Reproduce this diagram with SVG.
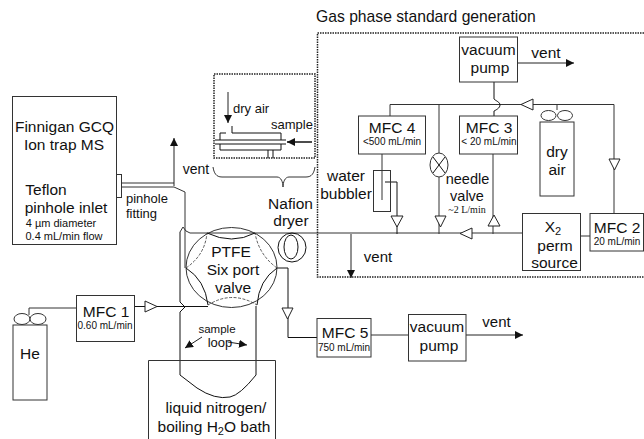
<svg xmlns="http://www.w3.org/2000/svg" width="644" height="439" viewBox="0 0 644 439">
<style>
text{font-family:"Liberation Sans",Arial,sans-serif;fill:#111;font-size:15.500px;text-anchor:middle}
.s{font-size:10px}
.l{text-anchor:start}
.b{fill:#fff;stroke:#333;stroke-width:1}
.w{fill:none;stroke:#333;stroke-width:1}
.k{fill:none;stroke:#111;stroke-width:1}
.t{fill:#fff;stroke:#222;stroke-width:1}
.d{fill:none;stroke:#222;stroke-width:1.500;stroke-dasharray:1.500 1}
.a{fill:none;stroke:#222;stroke-width:1;marker-end:url(#h)}
.v{fill:none;stroke:#333;stroke-width:.8;stroke-dasharray:3 1.500}
</style>
<defs><marker id="h" markerUnits="userSpaceOnUse" markerWidth="9" markerHeight="9" refX="8" refY="4" orient="auto"><path d="M0,0L8,4L0,8z" fill="#111"/></marker></defs>
<g id="connectors">
<path class="w" d="M29,315V308H76"/>
<path class="k" d="M134,306.500H208"/>
<path class="k" d="M180,232V302L185,307L180,312V375L197,388Q215,400 230,397Q240,395 256,375V306"/>
<path class="w" d="M180,232L183,227L186,231L190,233H522"/>
<path class="w" d="M121,183H174M121,187H174"/>
<path class="a" d="M174,186V138"/>
<path class="w" d="M174,187L185,192V268"/>
<path class="k" d="M277,268H288V337.500H317"/>
<path class="w" d="M371,335H408"/>
<path class="a" d="M466,335H523"/>
<path class="a" d="M517,63H574"/>
<path class="w" d="M390,116V104.500H614V213"/>
<path class="w" d="M439,104.500V153M439,177V234"/>
<path class="k" d="M494,82V99C496,101 500,102 500,105C500,108 496,110 494,111V116"/>
<path class="w" d="M557,104.500V110"/>
<path class="w" d="M493,154V234"/>
<path class="w" d="M382,154V200"/>
<path class="k" d="M385,182H397V234"/>
<path class="a" d="M351,234V278"/>
<path class="w" d="M580,236H590"/>
<path class="t" d="M145,301L157,306.500L145,312z"/>
<path class="t" d="M282,308H293L287.500,319z"/>
<path class="t" d="M533,99V110L521,104.500z"/>
<path class="t" d="M609,159H620L614.500,170z"/>
<path class="t" d="M435,216H446L440.500,227z"/>
<path class="t" d="M391,216H403L397,227z"/>
<path class="t" d="M488,226H500L494,215z"/>
<path class="t" d="M472,228V239L460,233.500z"/>
<path class="a" d="M202,337L185,348"/>
<path class="a" d="M228,342L247,345"/>
<path class="a" d="M75,194L110,186"/>
</g>
<g id="gas-box"><path class="d" d="M644,33H317.500V277H644"/><text x="316" y="22" class="l" style="font-size:15.700px">Gas phase standard generation</text></g>
<g id="dryer-detail">
<rect class="d" x="214" y="74" width="101" height="84"/>
<path class="a" d="M228,92V123"/>
<text x="233" y="113" class="l" style="font-size:13px">dry air</text>
<text x="271" y="129" class="l" style="font-size:13px">sample</text>
<path class="k" d="M215,140H286M215,144H286"/>
<path class="k" style="stroke-width:1.500;marker-end:url(#h)" d="M312,142H287"/>
<path class="k" d="M226,133H220V140M232,126V133H281V140M220,144V150H281V144M268,150V158M273,150V158"/>
<path class="w" d="M213,167C214,173 216,177 222,177H277C281,177 283,182 283,187C283,182 285,177 289,177H306C312,177 314,173 315,167"/>
<text x="196" y="174" style="font-size:14px">vent</text>
</g>
<g id="ms">
<rect class="b" x="12.500" y="96.500" width="104" height="148"/>
<rect class="b" x="116.500" y="174.500" width="5" height="23"/>
<text x="64.500" y="132">Finnigan GCQ</text><text x="64" y="150">Ion trap MS</text>
<text x="46" y="195">Teflon</text><text x="66" y="213">pinhole inlet</text>
<text x="61" y="227" style="font-size:11px">4 µm diameter</text><text x="64" y="240" style="font-size:11px">0.4 mL/min flow</text>
<text x="126" y="203" class="l" style="font-size:13px">pinhole</text><text x="126" y="218" class="l" style="font-size:13px">fitting</text>
</g>
<g id="he"><rect class="b" x="13" y="325" width="34" height="75"/><ellipse class="b" cx="22" cy="319" rx="8" ry="5.500"/><ellipse class="b" cx="38" cy="319" rx="8" ry="5.500"/><text x="30" y="359">He</text></g>
<g id="mfc1"><rect class="b" x="76.500" y="295.500" width="58" height="46"/><text x="106" y="317">MFC 1</text><text x="105" y="329" class="s">0.60 mL/min</text></g>
<g id="valve">
<ellipse class="w" cx="231.500" cy="267.500" rx="45.500" ry="40"/>
<path class="k" d="M207,233Q232,245 255,233M186,268Q205,280 208,305M277,268Q259,280 257,305"/>
<path class="v" d="M186,268Q205,255 207,233M277,268Q259,255 255,233M208,305Q232,290 257,305"/>
<text x="231" y="257">PTFE</text><text x="233" y="275">Six port</text><text x="233" y="293">valve</text>
</g>
<text x="217" y="333" style="font-size:11.500px">sample</text><text x="220" y="347" style="font-size:13px">loop</text>
<g id="bath"><path class="w" d="M148.500,439V360.500H275.500V439"/><text x="216" y="413">liquid nitrogen/</text><text x="214" y="432">boiling H<tspan dy="3" font-size="11">2</tspan><tspan dy="-3">O bath</tspan></text></g>
<g id="nafion"><ellipse class="k" cx="292" cy="247.500" rx="14" ry="14.500"/><ellipse class="k" cx="291" cy="247" rx="7" ry="12"/><text x="290.500" y="209">Nafion</text><text x="291" y="226">dryer</text></g>
<g id="pump-top"><rect class="b" x="459.500" y="37" width="58" height="45"/><text x="488.500" y="55">vacuum</text><text x="490" y="73">pump</text><text x="546" y="58">vent</text></g>
<g id="mfc4"><rect class="b" x="358.500" y="116" width="67" height="38"/><text x="392" y="133">MFC 4</text><text x="392" y="145" class="s">&lt;500 mL/min</text></g>
<g id="mfc3"><rect class="b" x="459.500" y="116" width="58" height="38"/><text x="489" y="133">MFC 3</text><text x="489" y="145" class="s">&lt; 20 mL/min</text></g>
<g id="dry-air"><rect class="b" x="540" y="122" width="34" height="74"/><ellipse class="b" cx="548.500" cy="115.500" rx="7.500" ry="5"/><ellipse class="b" cx="565" cy="115.500" rx="7.500" ry="5"/><text x="557" y="157">dry</text><text x="557" y="175">air</text></g>
<g id="bubbler"><rect class="w" x="373.500" y="170.500" width="17" height="41"/><text x="346" y="181">water</text><text x="346" y="199">bubbler</text></g>
<g id="needle"><ellipse class="b" cx="439" cy="165" rx="9" ry="12"/><path class="k" d="M433,157L445,173M445,157L433,173"/><text x="467.500" y="184" style="font-size:14.500px">needle</text><text x="467" y="200.500" style="font-size:14.500px">valve</text><text x="467" y="212.500" style="font-family:'Liberation Serif',serif;font-size:10px">~2 L/min</text></g>
<g id="perm"><rect class="b" x="522.500" y="213.500" width="58" height="57"/><text x="553" y="232">X<tspan dy="3" font-size="11">2</tspan></text><text x="555" y="251">perm</text><text x="554.500" y="268">source</text></g>
<g id="mfc2"><rect class="b" x="590" y="213.500" width="53.500" height="37.500"/><text x="617" y="233">MFC 2</text><text x="617" y="245" class="s">20 mL/min</text></g>
<text x="378" y="262" style="font-size:15px">vent</text>
<g id="mfc5"><rect class="b" x="317" y="318.500" width="54" height="38.500"/><text x="345" y="338">MFC 5</text><text x="344" y="351" class="s">750 mL/min</text></g>
<g id="pump-bottom"><rect class="b" x="408.500" y="314.500" width="57.500" height="46.500"/><text x="437" y="332">vacuum</text><text x="439" y="351">pump</text><text x="496.500" y="327" style="font-size:15px">vent</text></g>
</svg>
